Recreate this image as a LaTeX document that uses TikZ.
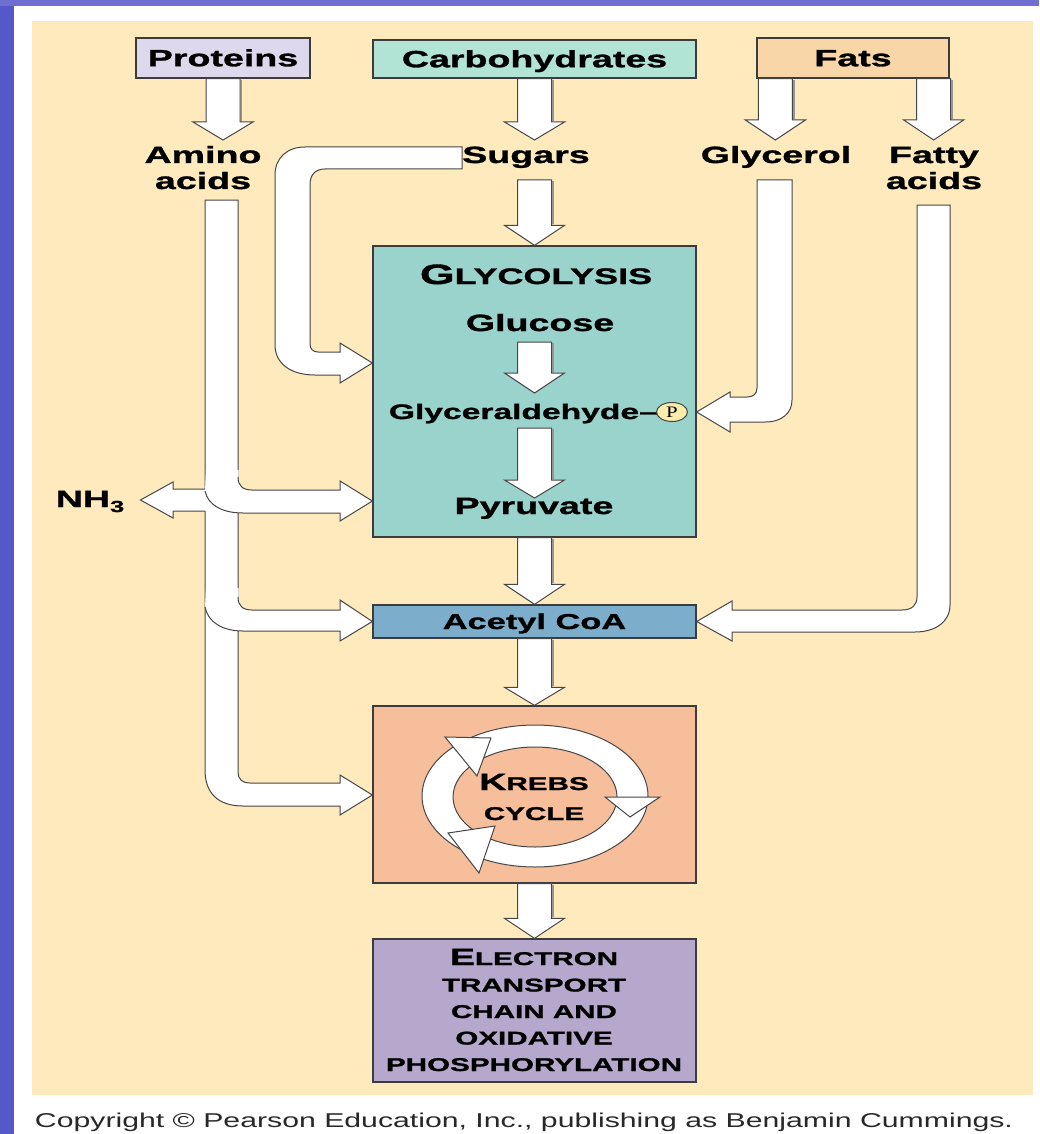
\documentclass[tikz,border=0pt]{standalone}
\usepackage{fontspec}
\usepackage{graphicx}
\setmainfont{Liberation Sans}
\newfontfamily\lab{Liberation Sans}[FakeStretch=1.6, BoldFeatures={FakeBold=1.2}]
\newfontfamily\serifP{Liberation Serif}[FakeStretch=1.3]
\usetikzlibrary{calc,shapes.geometric}
\definecolor{bgblue}{RGB}{84,88,200}
\definecolor{topblue}{RGB}{112,110,206}
\definecolor{cream}{RGB}{254,234,188}
\definecolor{protc}{RGB}{221,216,236}
\definecolor{carbc}{RGB}{178,228,214}
\definecolor{fatsc}{RGB}{248,214,168}
\definecolor{glycc}{RGB}{153,211,204}
\definecolor{acetc}{RGB}{124,174,204}
\definecolor{krebc}{RGB}{247,190,156}
\definecolor{etcc}{RGB}{181,168,204}
\definecolor{pcol}{RGB}{250,236,170}
\definecolor{boxline}{RGB}{60,60,60}
\definecolor{arrline}{RGB}{70,70,70}
\definecolor{shadowc}{RGB}{150,150,150}
\definecolor{copyc}{RGB}{40,40,40}
\newcommand\mainlab{\lab\bfseries\fontsize{23.5}{26}\selectfont}
\newcommand\sclab{\lab\bfseries\fontsize{18.5}{26.5}\selectfont}
\newcommand\BigL[1]{{\fontsize{23.5}{26.5}\selectfont #1}}
\newcommand\blockdown[3]{%
  \draw[blk] let \p1=#1, \p2=#2 in
    ({\x1-17pt},\y1) -- ({\x1-17pt},{\y2+#3}) -- ({\x1-30pt},{\y2+#3}) --
    (\x1,\y2) -- ({\x1+30pt},{\y2+#3}) -- ({\x1+17pt},{\y2+#3}) --
    ({\x1+17pt},\y1) -- cycle;
  \draw[shadowc,line width=1.5pt] let \p1=#1, \p2=#2 in
    ({\x1+18.5pt},{\y1-1pt}) -- ({\x1+18.5pt},{\y2+#3+1pt});}
\begin{document}
\begin{tikzpicture}[x=1pt,y=-1pt,
  box/.style={draw=boxline,line width=1.3pt,inner sep=0pt,text height=16.5pt,text depth=0pt,font=\mainlab},
  panel/.style={draw=boxline,line width=1.3pt,inner sep=0pt,minimum width=323pt},
  blk/.style={fill=white,draw=arrline,line width=1pt,line join=miter},
  outl/.style={draw=arrline,line width=1pt},
  lbl/.style={inner sep=0pt,anchor=base,align=center,font=\mainlab},
]
\useasboundingbox (0,0) rectangle (1039,1134);
% background
\fill[bgblue] (0,0) rectangle (1039,1134);
\fill[topblue] (0,0) rectangle (1039,6);
\fill[white] (14,6) rectangle (1039,1134);
\fill[cream] (32,21) rectangle (1033,1095);

% source boxes
\node[box,fill=protc,minimum width=174pt,minimum height=40pt] (prot) at (223,58) {Proteins};
\node[box,fill=carbc,minimum width=323pt,minimum height=38pt] (carb) at (534.5,59) {Carbohydrates};
\node[box,fill=fatsc,minimum width=192pt,minimum height=40pt] (fats) at (853,58) {Fats};
\coordinate (fatsL) at ($(fats.south west)+(19,0)$);
\coordinate (fatsR) at ($(fats.south east)+(-16,0)$);

% intermediate labels (anchor = baseline of last line)
\node[lbl] (amino) at (203,189) {Amino\\acids};
\node[lbl] (sugars) at (526,163) {Sugars};
\node[lbl] (glycerol) at (776,163) {Glycerol};
\node[lbl] (fatty) at (934,189) {Fatty\\acids};

% main boxes
\node[panel,fill=glycc,minimum height=291pt] (glyc) at (534.5,391.5) {};
\node[box,fill=acetc,minimum width=323pt,minimum height=33pt,text height=15pt,
      font=\lab\bfseries\fontsize{21.5}{24}\selectfont] (acetyl) at (534.5,621.5) {Acetyl CoA};
\node[panel,fill=krebc,minimum height=177pt] (krebs) at (534.5,794.5) {};
\node[panel,fill=etcc,minimum height=143pt] (etc) at (534.5,1010.5) {};

% glycolysis contents
\node[lbl,font=\lab\bfseries\fontsize{22.5}{26}\selectfont] (gtitle) at (536,284) {{\fontsize{28}{30}\selectfont G}LYCOLYSIS};
\node[lbl] (glucose) at (540,331) {Glucose};
\node[lbl,anchor=base east,font=\lab\bfseries\fontsize{21}{24}\selectfont] (glyald) at (658,419) {Glyceraldehyde\textendash};
\node[ellipse,draw=arrline,line width=1pt,fill=pcol,minimum width=31pt,minimum height=19pt,inner sep=0pt,
      font=\serifP\fontsize{16}{17}\selectfont] (pcirc) at (672,412) {P};
\node[lbl] (pyruvate) at (534,514) {Pyruvate};

% ETC text
\node[lbl,font=\sclab] (etctext) at (534,1071) {\BigL{E}LECTRON\\TRANSPORT\\CHAIN AND\\OXIDATIVE\\PHOSPHORYLATION};

% NH3
\node[lbl] (nh3) at (90,507) {NH\raisebox{-5pt}{\fontsize{16}{18}\selectfont 3}};

% copyright
\node[inner sep=0pt,anchor=base,text=copyc] (copy) at (524,1127)
  {\resizebox{978pt}{\height}{\fontsize{20}{24}\selectfont Copyright \textcopyright{} Pearson Education, Inc., publishing as Benjamin Cummings.}};

% straight block arrows
\blockdown{(prot.south)}{(prot.south |- 0,140)}{18pt}
\blockdown{(carb.south)}{(carb.south |- 0,140)}{18pt}
\blockdown{(fatsL)}{(fatsL |- 0,140)}{20pt}
\blockdown{(fatsR)}{(fatsR |- 0,140)}{20pt}
\blockdown{(glyc.north |- 0,180)}{(glyc.north)}{20pt}
\blockdown{(glyc.center |- 0,342)}{(glyc.center |- 0,393)}{20pt}
\blockdown{(glyc.center |- 0,428)}{(glyc.center |- 0,498)}{18pt}
\blockdown{(glyc.south)}{(acetyl.north)}{20pt}
\blockdown{(acetyl.south)}{(krebs.north)}{18pt}
\blockdown{(krebs.south)}{(etc.north)}{20pt}

% sugars loop into glycolysis
\draw[blk] (462,147) -- (305,147) .. controls (287,147) and (275,158) .. (275,175) -- (275,345)
  .. controls (275,363) and (290,375) .. (315,375) -- (340,375) -- (340,383) -- (glyc.west |- 0,363)
  -- (340,343) -- (340,352) -- (318,352) .. controls (313,352) and (310,349) .. (310,344)
  -- (310,185) .. controls (310,175) and (315,169) .. (325,169) -- (462,169) -- cycle;

% glycerol into glyceraldehyde-P
\draw[blk] (757,180) -- (757,388) .. controls (757,394) and (753,397) .. (747,397) -- (730,397)
  -- (730,392) -- (glyc.east |- 0,412) -- (730,432) -- (730,422) -- (765,422)
  .. controls (782,422) and (792,413) .. (792,400) -- (792,180) -- cycle;

% fatty acids into acetyl CoA
\draw[blk] (917,205) -- (917,597) .. controls (917,605) and (912,610) .. (902,610) -- (732,610)
  -- (732,601) -- (acetyl.east) -- (732,641) -- (732,632) -- (915,632)
  .. controls (935,632) and (950,622) .. (950,605) -- (950,205) -- cycle;

% amino acids main trunk into Krebs
\draw[blk] (205,200) -- (205,770) .. controls (205,793) and (218,806) .. (243,806) -- (340,806)
  -- (340,815) -- (krebs.west |- 0,795) -- (340,775) -- (340,783) -- (250,783)
  .. controls (242,783) and (238,779) .. (238,772) -- (238,200) -- cycle;
% NH3 arrow
\fill[white] (207,489) -- (173,489) -- (173,482) -- ($(nh3.east |- 0,500)+(16,0)$) -- (173,518) -- (173,511) -- (207,511) -- cycle;
\draw[outl] (205,489) -- (173,489) -- (173,482) -- ($(nh3.east |- 0,500)+(16,0)$) -- (173,518) -- (173,511) -- (205,511);
% branch to pyruvate
\fill[white] (206,470) -- (238.5,470) -- (238.5,477) .. controls (238.5,486) and (243,490) .. (252,490) -- (340,490)
  -- (340,481) -- (glyc.west |- 0,501) -- (340,521) -- (340,513) -- (243,513) .. controls (222,513) and (208,505) .. (205,491) -- cycle;
\draw[outl] (238,477) .. controls (238,486) and (243,490) .. (252,490) -- (340,490)
  -- (340,481) -- (glyc.west |- 0,501) -- (340,521) -- (340,513) -- (243,513) .. controls (222,513) and (208,505) .. (205,491);
% branch to acetyl CoA
\fill[white] (206,588) -- (238.5,588) -- (238.5,597) .. controls (238.5,606) and (243,610) .. (252,610) -- (340,610)
  -- (340,600) -- (acetyl.west) -- (340,641) -- (340,631) -- (243,631) .. controls (222,631) and (208,622) .. (205,607) -- cycle;
\draw[outl] (238,597) .. controls (238,606) and (243,610) .. (252,610) -- (340,610)
  -- (340,600) -- (acetyl.west) -- (340,641) -- (340,631) -- (243,631) .. controls (222,631) and (208,622) .. (205,607);

% Krebs cycle ring
\fill[white,even odd rule] (535,796) ellipse [x radius=113,y radius=71] (535,797) ellipse [x radius=82,y radius=50];
\draw[outl] (535,796) ellipse [x radius=113,y radius=71];
\draw[outl] (535,797) ellipse [x radius=82,y radius=50];
\draw[blk] (445,737) -- (491,738) -- (477,776) -- cycle;
\draw[blk] (605,797) -- (660,797) -- (630,817) -- cycle;
\draw[blk] (479,873) -- (495,826) -- (448,833) -- cycle;
\node[lbl,font=\lab\bfseries\fontsize{18.5}{30}\selectfont] (krebstext) at (534,820) {\BigL{K}REBS\\CYCLE};
\end{tikzpicture}
\end{document}
